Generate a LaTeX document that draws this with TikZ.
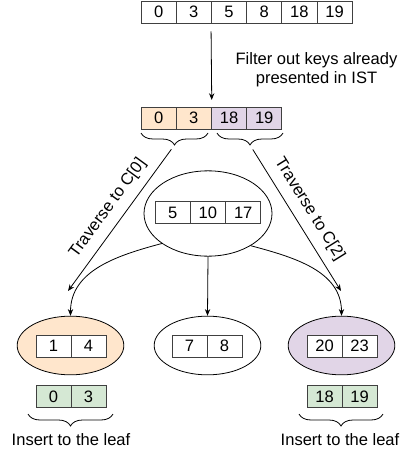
\documentclass[tikz,border=0pt]{standalone}
\usepackage{fontspec}
\setmainfont{Liberation Sans}
\usepackage{tikz}
\usetikzlibrary{shapes.geometric,arrows.meta,decorations.pathreplacing}
\definecolor{orangekey}{HTML}{FFE6CC}
\definecolor{purplekey}{HTML}{E1D5E7}
\definecolor{greenkey}{HTML}{D5E8D4}
\tikzset{
  key cell/.style={draw=black!75, fill=white, minimum width=26.4pt, minimum height=16.5pt, inner sep=0pt},
  tree node/.style={draw, ellipse, inner sep=0pt},
  key brace/.style={decorate, decoration={brace, mirror, amplitude=9pt}},
  link/.style={-{Stealth[length=5pt,width=4pt]}},
}

\begin{document}
\begin{tikzpicture}[x=0.75pt, y=-0.75pt, line width=0.6pt, font=\fontsize{12.4}{14.25}\selectfont]
                        \useasboundingbox (0,0) rectangle (403,453);
                        % incoming keys
                        \foreach \v [count=\i from 0] in {0,3,5,8,18,19}
                          \node[key cell] (k\i) at (158.6+35.2*\i, 12) {\v};
                        % keys left after filtering
                        \foreach \v/\c [count=\i from 0] in {0/orangekey,3/orangekey,18/purplekey,19/purplekey}
                          \node[key cell, fill=\c] (f\i) at (158.6+35.2*\i, 118) {\v};
                        \draw[link, shorten <=6pt, shorten >=5pt] (k2.south west) -- (f1.north east);
                        \node[align=center] (filter) at (316.5, 69.5) {Filter out keys already\\presented in IST};
                        % braces under the filtered keys
                        \draw[key brace] (141,133) -- (208,133);
                        \draw[key brace] (217,133) -- (283,133);
                        \coordinate (tipL) at (174.5,145);
                        \coordinate (tipR) at (250,145);
                        \coordinate (endL) at (68,291);
                        \coordinate (endR) at (341,291);
                        \draw[link, shorten <=4pt] (tipL) -- node[sloped, above=3pt] {Traverse to C[0]} (endL);
                        \draw[link, shorten <=4pt] (tipR) -- node[sloped, above=3pt] {Traverse to C[2]} (endR);
                        % internal node
                        \node[tree node, minimum width=96pt, minimum height=64pt] (root) at (208,213.5) {};
                        \foreach \v [count=\i from 0] in {5,10,17}
                          \node[key cell] (r\i) at (172.6+35.3*\i, 212.5) {\v};
                        % leaves
                        \node[tree node, fill=orangekey, minimum width=80pt, minimum height=44pt] (leafA) at (70.5,345.5) {};
                        \node[tree node, minimum width=80pt, minimum height=44pt] (leafB) at (207.5,345.5) {};
                        \node[tree node, fill=purplekey, minimum width=80pt, minimum height=44pt] (leafC) at (341.5,345.5) {};
                        \foreach \v [count=\i from 0] in {1,4}
                          \node[key cell] (a\i) at (53.5+35*\i, 346) {\v};
                        \foreach \v [count=\i from 0] in {7,8}
                          \node[key cell] (b\i) at (189.5+35*\i, 346) {\v};
                        \foreach \v [count=\i from 0] in {20,23}
                          \node[key cell] (c\i) at (324.5+35*\i, 346) {\v};
                        \draw[link] (root.213) to[out=195, in=90] (leafA.north);
                        \draw[link] (root.south) -- (leafB.north);
                        \draw[link] (root.-37) to[out=-15, in=90] (leafC.north);
                        % keys inserted into the leaves
                        \foreach \v [count=\i from 0] in {0,3}
                          \node[key cell, fill=greenkey] (ga\i) at (53.5+35*\i, 396.5) {\v};
                        \foreach \v [count=\i from 0] in {18,19}
                          \node[key cell, fill=greenkey] (gc\i) at (324.5+35*\i, 396.5) {\v};
                        \draw[key brace] (28,414) -- (113,414);
                        \draw[key brace] (299,414) -- (383,414);
                        \node (insA) at (71,440) {Insert to the leaf};
                        \node (insC) at (340,440) {Insert to the leaf};
\end{tikzpicture}
\end{document}
